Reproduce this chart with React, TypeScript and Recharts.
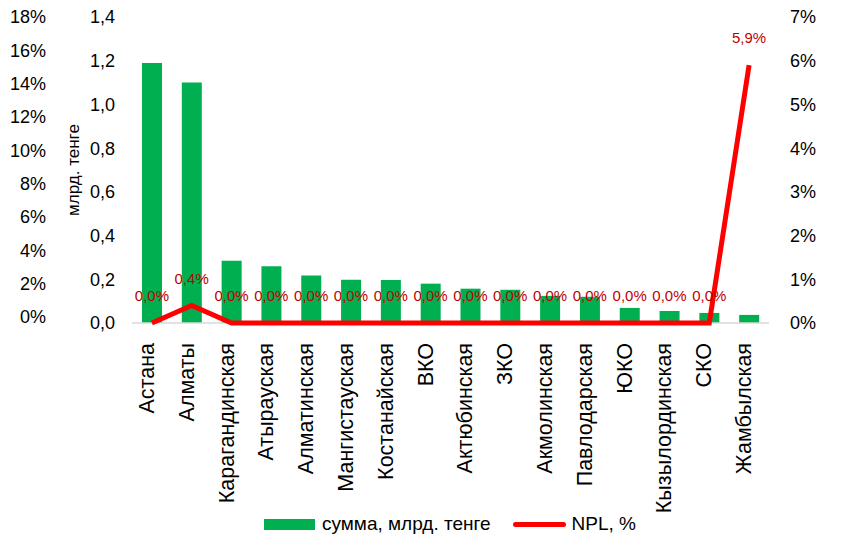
import React from 'react';
import {
  ComposedChart,
  Bar,
  Line,
  XAxis,
  YAxis,
  LabelList,
  Legend,
  ReferenceLine,
} from 'recharts';

// regions, amount (bn tenge), NPL share
const regions = [
  'Астана',
  'Алматы',
  'Карагандинская',
  'Атырауская',
  'Алматинская',
  'Мангистауская',
  'Костанайская',
  'ВКО',
  'Актюбинская',
  'ЗКО',
  'Акмолинская',
  'Павлодарская',
  'ЮКО',
  'Кызылординская',
  'СКО',
  'Жамбылская',
];
const amounts = [1.19, 1.1, 0.285, 0.26, 0.217, 0.198, 0.197, 0.18, 0.157, 0.152, 0.124, 0.12, 0.069, 0.055, 0.046, 0.037];
const npl = [0, 0.004, 0, 0, 0, 0, 0, 0, 0, 0, 0, 0, 0, 0, 0, 0.059];

const amountTicks = [0, 0.2, 0.4, 0.6, 0.8, 1.0, 1.2, 1.4];
const nplTicks = [0, 0.01, 0.02, 0.03, 0.04, 0.05, 0.06, 0.07];
const outerTicks = [0, 0.02, 0.04, 0.06, 0.08, 0.1, 0.12, 0.14, 0.16, 0.18];

const data = regions.map((name, i) => ({ name, amount: amounts[i], npl: npl[i] }));

const FONT = '"Liberation Sans", Arial, sans-serif';
const GREEN = '#00B050';
const RED = '#FF0000';

const pct = (v: number) => `${Math.round(v * 100)}%`;

const RegionTick = (props: any) => {
  const { x, y, payload } = props;
  return (
    <g transform={`translate(${x},${y})`}>
      <text
        transform="rotate(-90)"
        x={-12}
        dy={2}
        textAnchor="end"
        fontSize={21.5}
        fontFamily={FONT}
        fill="#000"
      >
        {payload.value}
      </text>
    </g>
  );
};

const NplLabel = (props: any) => {
  const { x, y, value } = props;
  return (
    <text
      x={x}
      y={y - 22}
      textAnchor="middle"
      fontSize={15}
      fontFamily={FONT}
      fill="#C00000"
    >
      {`${(value * 100).toFixed(1).replace('.', ',')}%`}
    </text>
  );
};

const LegendBox = () => (
  <div
    style={{
      position: 'absolute',
      left: 264,
      top: 0,
      display: 'flex',
      alignItems: 'center',
      fontFamily: FONT,
      fontSize: 19,
      color: '#000',
      whiteSpace: 'nowrap',
    }}
  >
    <span style={{ width: 51, height: 11, background: GREEN, display: 'inline-block' }} />
    <span style={{ marginLeft: 7 }}>сумма, млрд. тенге</span>
    <span
      style={{
        width: 53,
        height: 5,
        background: RED,
        borderRadius: 3,
        display: 'inline-block',
        marginLeft: 22,
      }}
    />
    <span style={{ marginLeft: 6 }}>NPL, %</span>
  </div>
);

export default function App() {
  return (
    <div style={{ width: 841, height: 541, background: '#fff' }}>
      <style>{'body{margin:0}'}</style>
      <ComposedChart
        width={841}
        height={541}
        data={data}
        margin={{ top: 17, right: 0, left: 0, bottom: 0 }}
      >
        <XAxis
          dataKey="name"
          interval={0}
          height={190}
          tick={<RegionTick />}
          tickLine={false}
          axisLine={false}
        />
        <YAxis
          yAxisId="amount"
          orientation="left"
          width={80}
          domain={[0, 1.4]}
          ticks={amountTicks}
          interval={0}
          tickFormatter={(v: number) => v.toFixed(1).replace('.', ',')}
          tick={{ fontSize: 18, fontFamily: FONT, fill: '#000' }}
          tickLine={false}
          axisLine={false}
          tickMargin={11}
          label={{
            value: 'млрд. тенге',
            angle: -90,
            position: 'insideLeft',
            offset: 21,
            style: { fontSize: 17, fontFamily: FONT, fill: '#000', textAnchor: 'middle' },
          }}
        />
        <YAxis
          yAxisId="outer"
          orientation="left"
          width={52}
          domain={[-0.0036, 0.18]}
          ticks={outerTicks}
          interval={0}
          allowDataOverflow
          tickFormatter={pct}
          tick={{ fontSize: 18, fontFamily: FONT, fill: '#000' }}
          tickLine={false}
          axisLine={false}
          tickMargin={0}
        />
        <YAxis
          yAxisId="npl"
          orientation="right"
          width={72}
          domain={[0, 0.07]}
          ticks={nplTicks}
          interval={0}
          tickFormatter={pct}
          tick={{ fontSize: 18, fontFamily: FONT, fill: '#000', textAnchor: 'start' }}
          tickLine={false}
          axisLine={false}
          tickMargin={15}
        />
        <Legend
          verticalAlign="bottom"
          content={<LegendBox />}
          wrapperStyle={{ position: 'absolute', left: 0, top: 513, width: 841, height: 28 }}
        />
        <ReferenceLine yAxisId="amount" y={0} stroke="#D9D9D9" strokeWidth={1.5} />
        <Bar
          yAxisId="amount"
          dataKey="amount"
          name="сумма, млрд. тенге"
          fill={GREEN}
          barSize={20}
          isAnimationActive={false}
        />
        <Line
          yAxisId="outer"
          dataKey="npl"
          name="outer"
          legendType="none"
          stroke="none"
          dot={false}
          activeDot={false}
          isAnimationActive={false}
        />
        <Line
          yAxisId="npl"
          dataKey="npl"
          name="NPL, %"
          type="linear"
          stroke={RED}
          strokeWidth={5}
          dot={false}
          activeDot={false}
          isAnimationActive={false}
        >
          <LabelList dataKey="npl" content={<NplLabel />} />
        </Line>
      </ComposedChart>
    </div>
  );
}
